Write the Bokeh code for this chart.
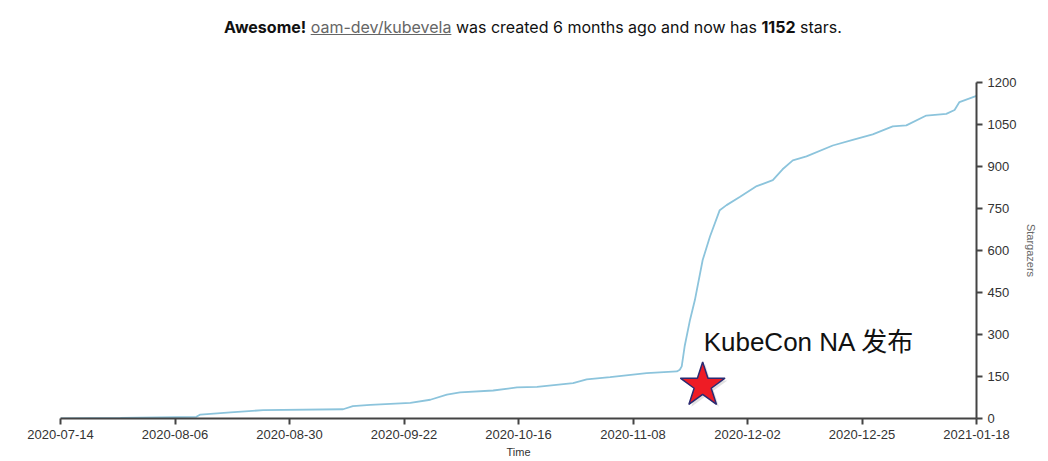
from bokeh.plotting import figure
from bokeh.models import Range1d, FixedTicker, Div
from bokeh.layouts import column
from bokeh.embed import file_html
from bokeh.resources import INLINE
from bokeh.core.properties import value

# ---- data (days since 2020-07-14, cumulative stars) ----
days = [0, 12.3, 27.9, 28.7, 34.9, 41.6, 58.0, 60.0, 63.6, 71.8, 75.9, 79.3, 82.0,
        88.8, 93.7, 97.8, 105.2, 108.0, 112.8, 120.3, 126.5, 127.1, 127.5, 128.1,
        129.2, 130.2, 131.8, 133.3, 135.3, 136.7, 139.4, 142.9, 146.2, 148.2, 150.3,
        153.1, 158.5, 162.6, 166.7, 170.8, 173.6, 177.7, 181.8, 183.5, 184.5, 188.0]
stars = [0, 2, 6, 14, 22, 30, 33, 44, 49, 56, 67, 85, 93,
         100, 111, 113, 126, 140, 148, 162, 168, 174, 186, 258,
         352, 423, 566, 650, 744, 762, 791, 830, 851, 890, 922,
         936, 975, 995, 1015, 1043, 1047, 1082, 1088, 1102, 1130, 1152]

x_tick_pos = [0, 23.5, 47, 70.5, 94, 117.5, 141, 164.5, 188]
x_tick_labels = ["2020-07-14", "2020-08-06", "2020-08-30", "2020-09-22", "2020-10-16",
                 "2020-11-08", "2020-12-02", "2020-12-25", "2021-01-18"]
y_ticks = [0, 150, 300, 450, 600, 750, 900, 1050, 1200]

event_day = [131.8]
event_stars = [118]
event_text = "KubeCon NA 发布"
event_text_day = 132.0
event_text_stars = 272

repo = "oam-dev/kubevela"
total = 1152

title_html = (
    '<div style="width:1040px;text-align:center;font-family:Inter,sans-serif;'
    'font-size:16px;line-height:20px;color:#111;padding-top:17px;'
    'position:relative;left:13px;">'
    '<b>Awesome!</b> <span style="color:#666;text-decoration:underline;">'
    f'{repo}</span> was created 6 months ago and now has <b>{total}</b> stars.</div>'
)
div = Div(text=title_html, width=1040, height=48, margin=(0, 0, 0, 0))

p = figure(width=1040, height=412, output_backend="svg", toolbar_location=None,
           x_range=Range1d(0, 188), y_range=Range1d(0, 1200),
           y_axis_location="right", margin=(0, 0, 0, 0),
           min_border_left=60, min_border_top=34, min_border_right=63,
           min_border_bottom=10)
p.outline_line_color = None
p.xgrid.grid_line_color = None
p.ygrid.grid_line_color = None
p.background_fill_color = "white"
p.border_fill_color = "white"

p.line(days, stars, line_color="#8cc4dc", line_width=1.8)

# star marker (with soft shadow)
p.scatter([d + 0.5 for d in event_day], [s - 8 for s in event_stars], marker="star",
          size=47, fill_color="#888888", fill_alpha=0.25, line_color=None)
p.scatter(event_day, event_stars, marker="star", size=47, fill_color="#ee1c25",
          line_color="#2b2b72", line_width=1.5)
p.text([event_text_day], [event_text_stars], text=[event_text],
       text_font=value("Liberation Sans, Noto Sans CJK SC"), text_font_size="26px",
       text_color="#111111", text_baseline="alphabetic", text_align="left")

xa = p.xaxis[0]
xa.ticker = FixedTicker(ticks=x_tick_pos)
xa.major_label_overrides = {t: l for t, l in zip(x_tick_pos, x_tick_labels)}
xa.axis_label = "Time"
xa.axis_label_text_font = "Liberation Sans"
xa.axis_label_text_font_size = "11px"
xa.axis_label_text_font_style = "normal"
xa.axis_label_text_color = "#333333"
xa.axis_label_standoff = 4
xa.minor_tick_line_color = None
xa.major_tick_in = 0
xa.major_tick_out = 6
xa.major_label_standoff = 5

ya = p.yaxis[0]
ya.ticker = FixedTicker(ticks=y_ticks)
ya.axis_label = "Stargazers"
ya.axis_label_text_font = "Liberation Sans"
ya.axis_label_text_font_size = "11px"
ya.axis_label_text_font_style = "normal"
ya.axis_label_text_color = "#666666"
ya.axis_label_standoff = 6
ya.minor_tick_line_color = None
ya.major_tick_in = 0
ya.major_tick_out = 6
ya.major_label_standoff = 5

for ax in (xa, ya):
    ax.axis_line_color = "#444444"
    ax.axis_line_width = 2
    ax.major_tick_line_color = "#444444"
    ax.major_tick_line_width = 2
    ax.major_label_text_font = "Liberation Sans"
    ax.major_label_text_font_size = "13px"
    ax.major_label_text_color = "#333333"

layout = column(div, p, spacing=0)
open("out.html", "w").write(file_html(layout, INLINE))
